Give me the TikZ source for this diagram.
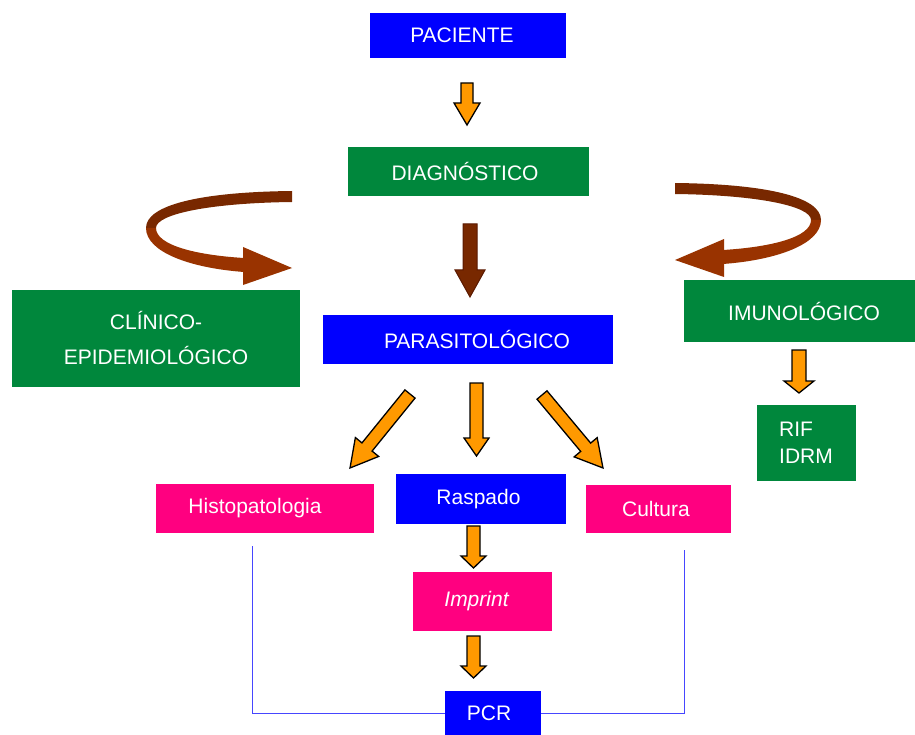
\documentclass[tikz,border=0pt]{standalone}
\usepackage{fontspec}
\setmainfont{Liberation Sans}
\usetikzlibrary{calc}
\definecolor{cblue}{RGB}{0,0,255}
\definecolor{cgreen}{RGB}{0,135,60}
\definecolor{cmag}{RGB}{255,0,128}
\definecolor{corange}{RGB}{255,153,0}
\definecolor{cbrownA}{RGB}{120,40,0}
\definecolor{cbrownB}{RGB}{153,51,0}
\definecolor{cbrownD}{RGB}{90,25,0}
\definecolor{cline}{RGB}{70,70,255}
% #1 style, #2 from, #3 to, #4 shaft half width, #5 head half width, #6 head length
\newcommand\blockarrow[6]{%
  \filldraw[#1] let \p1=(#2), \p2=(#3), \n1={atan2(\y2-\y1,\x2-\x1)}, \n2={veclen(\x2-\x1,\y2-\y1)} in
  [shift={(\p1)}, rotate=\n1]
  (0pt,-#4pt) -- ({\n2-#6pt},-#4pt) -- ({\n2-#6pt},-#5pt) -- ({\n2+0pt},0pt)
  -- ({\n2-#6pt},#5pt) -- ({\n2-#6pt},#4pt) -- (0pt,#4pt) -- cycle;}
% shift text horizontally inside a box: positive = right
\newcommand\shr[2]{\hspace*{#1pt}#2}
\newcommand\shl[2]{#2\hspace*{#1pt}}
\tikzset{
  box/.style={inner sep=0pt, text=white, font=\fontsize{21}{25}\selectfont, anchor=center},
  bluebox/.style={box, fill=cblue},
  greenbox/.style={box, fill=cgreen},
  magbox/.style={box, fill=cmag},
  orarrow/.style={fill=corange, draw=black, line width=1.3pt, line join=miter},
  brarrow/.style={fill=cbrownA, draw=cbrownD, line width=1pt, line join=miter},
  linkline/.style={draw=cline, line width=0.9pt}
}
\begin{document}
\begin{tikzpicture}[x=1pt, y=-1pt]
\useasboundingbox (0,0) rectangle (915,735);
\clip (0,0) rectangle (915,735);

% boxes
\node[bluebox, minimum width=196pt, minimum height=45pt] (pac) at (468,35.5) {\shl{12}{PACIENTE}};
\node[greenbox, minimum width=241pt, minimum height=49pt] (diag) at (468.5,171.5) {\shl{7}{DIAGNÓSTICO}};
\node[greenbox, minimum width=288pt, minimum height=97pt, align=center, font=\fontsize{21}{35}\selectfont] (clin) at (156,338) {CLÍNICO-\\EPIDEMIOLÓGICO};
\node[bluebox, minimum width=290pt, minimum height=49pt] (para) at (468,339.5) {\shr{18}{PARASITOLÓGICO}};
\node[greenbox, minimum width=231pt, minimum height=62pt] (imun) at (799.5,311) {\shr{9}{IMUNOLÓGICO}};
\node[greenbox, minimum width=99pt, minimum height=76pt, align=left, font=\fontsize{21}{27}\selectfont] (rif) at (806,443) {RIF\\IDRM};
\node[magbox, minimum width=218pt, minimum height=49pt] (histo) at (265,508.5) {\shl{20}{Histopatologia}};
\node[bluebox, minimum width=170pt, minimum height=50pt] (rasp) at (481,499) {\shl{5}{Raspado}};
\node[magbox, minimum width=145pt, minimum height=48pt] (cult) at (658.5,509) {\shl{5}{Cultura}};
\node[magbox, minimum width=139pt, minimum height=59pt, font=\fontsize{21}{25}\selectfont\itshape] (impr) at (482,601.5) {\shl{11}{Imprint}};
\node[bluebox, minimum width=96pt, minimum height=44pt] (pcr) at (493,713) {\shl{8}{PCR}};

% arrow end points
\coordinate (a1s) at (467,83);    \coordinate (a1e) at (467,125);
\coordinate (a2s) at (470,224);   \coordinate (a2e) at (470,297);
\coordinate (a3s) at (476.5,383); \coordinate (a3e) at (476.5,456);
\coordinate (a4s) at (410,394);   \coordinate (a4e) at (350,468);
\coordinate (a5s) at (542,395);   \coordinate (a5e) at (603,468);
\coordinate (a6s) at (473.5,526); \coordinate (a6e) at (473.5,568);
\coordinate (a7s) at (473.5,636); \coordinate (a7e) at (473.5,678);
\coordinate (a8s) at (799,350);   \coordinate (a8e) at (799,393);

\blockarrow{orarrow}{a1s}{a1e}{6}{13}{22}
\blockarrow{brarrow}{a2s}{a2e}{7}{15}{27}
\blockarrow{orarrow}{a3s}{a3e}{6.5}{12.5}{18}
\blockarrow{orarrow}{a4s}{a4e}{6.5}{15}{27}
\blockarrow{orarrow}{a5s}{a5e}{6.5}{15}{27}
\blockarrow{orarrow}{a6s}{a6e}{6.5}{12.5}{12}
\blockarrow{orarrow}{a7s}{a7e}{6.5}{12.5}{12}
\blockarrow{orarrow}{a8s}{a8e}{7}{15}{12}

% curved arrow, left
\fill[cbrownA] (292,191) .. controls (200,192) and (146,205) .. (146,228)
  -- (156,228) .. controls (156,214) and (210,203) .. (292,202) -- cycle;
\fill[cbrownB] (146,228) .. controls (146,252) and (190,268) .. (244,272)
  -- (244,258) .. controls (195,255) and (156,245) .. (156,228) -- cycle;
\fill[cbrownB] (243,247) -- (292,268) -- (243,285) -- cycle;

% curved arrow, right
\fill[cbrownA] (675,183) .. controls (767,184) and (821,197) .. (821,220)
  -- (811,220) .. controls (811,206) and (757,195) .. (675,194) -- cycle;
\fill[cbrownB] (821,220) .. controls (821,244) and (777,260) .. (723,264)
  -- (723,250) .. controls (772,247) and (811,237) .. (811,220) -- cycle;
\fill[cbrownB] (724,239) -- (675,260) -- (724,277) -- cycle;

% link lines to PCR
\coordinate (hl) at (252,546);
\coordinate (cl) at (684,550);
\draw[linkline] (hl) |- (pcr.west);
\draw[linkline] (cl) |- (pcr.east);
\end{tikzpicture}
\end{document}
